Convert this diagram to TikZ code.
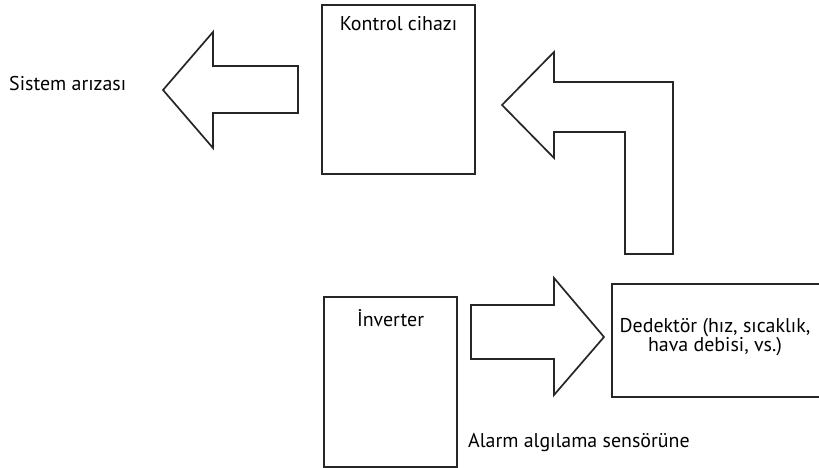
\documentclass[tikz,border=0pt]{standalone}
\usepackage{fontspec}
\setmainfont{PT Sans}
\usetikzlibrary{positioning}
\begin{document}
\begin{tikzpicture}[x=1bp, y=-1bp,
  unit/.style={draw=black!85, line width=1.7pt, rectangle,
               inner sep=0pt, outer sep=0pt, anchor=north west},
  blk/.style={draw=black!85, line width=1.7pt, fill=white, line join=miter},
  lbl/.style={font=\fontsize{20}{19}\selectfont, inner sep=0pt, text=black},
]
% Fix page to the reference size (pixel units, y down)
\useasboundingbox (0,0) rectangle (819,468);
% Boxes
\node[unit, minimum width=153bp, minimum height=169bp] (ctrl) at (322,5) {};
\node[unit, minimum width=133bp, minimum height=170bp] (inv) at (324,297) {};
\node[unit, minimum width=212bp, minimum height=113bp] (det) at (612,284) {};
% Box titles
\node[lbl, below=11bp of ctrl.north] (ctrlname) {Kontrol cihazı};
\node[lbl, below=12bp of inv.north] (invname) {İnverter};
\node[lbl, align=center] (detname) at (715,337) {Dedektör (hız, sıcaklık,\\hava debisi, vs.)};
% Free labels
\node[lbl, anchor=west] (fault) at (9,84) {Sistem arızası};
\node[lbl, anchor=west] (alarm) at (468,443) {Alarm algılama sensörüne};
% Block arrows
% control -> fault
\draw[blk] (298,66) -- (213,66) -- (213,32) -- (163,90) -- (213,148)
  -- (213,113) -- (298,113) -- cycle;
% detector -> control (bent)
\draw[blk] (673,254) -- (673,82) -- (554,82) -- (554,52) -- (502,105)
  -- (554,158) -- (554,132) -- (625,132) -- (625,254) -- cycle;
% inverter -> detector
\draw[blk] (471,305) -- (554,305) -- (554,278) -- (604,337) -- (554,395)
  -- (554,359) -- (471,359) -- cycle;
\end{tikzpicture}
\end{document}
